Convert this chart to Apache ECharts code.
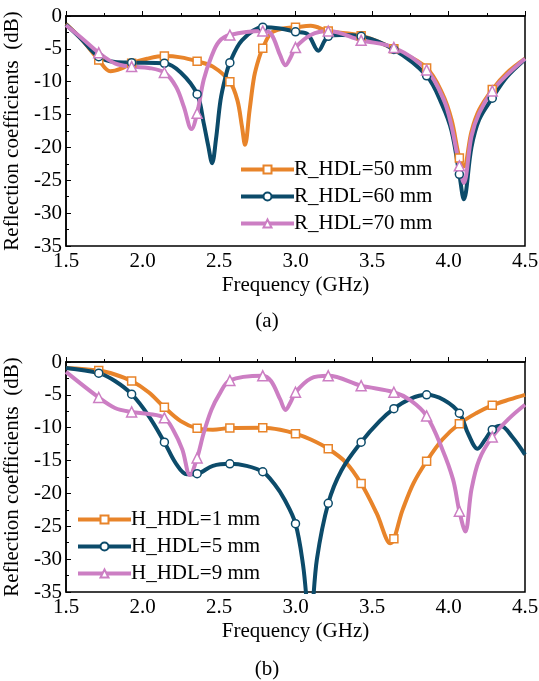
<!DOCTYPE html>
<html>
<head>
<meta charset="utf-8">
<script src="https://cdn.jsdelivr.net/npm/echarts@6/dist/echarts.min.js"></script>
<style>
  html, body { margin: 0; padding: 0; background: #fff; }
  #chart { width: 539px; height: 681px; }
</style>
</head>
<body>
<div id="chart"></div>
<script>
// frequency ticks and marker positions (GHz)
const xTicks = [1.5, 2.0, 2.5, 3.0, 3.5, 4.0, 4.5];
const markFreq = [1.714, 1.929, 2.143, 2.357, 2.571, 2.786, 3.0, 3.214, 3.429, 3.643, 3.857, 4.071, 4.286];

// (a) R_HDL sweep, curve points [GHz, dB]
const aR50 = [[1.5,-1.2],[1.6,-3.5],[1.714,-6.7],[1.79,-8.4],[1.86,-8.0],[1.929,-7.2],[2.03,-6.5],[2.143,-6.1],[2.25,-6.3],
  [2.357,-6.9],[2.46,-7.7],[2.571,-10.0],[2.62,-12.8],[2.65,-16.8],[2.67,-19.6],[2.70,-14.3],[2.73,-9.2],[2.76,-6.5],
  [2.786,-4.9],[2.84,-2.6],[2.92,-1.9],[3.0,-1.7],[3.1,-1.5],[3.214,-2.3],[3.429,-3.0],[3.643,-5.0],
  [3.857,-7.9],[3.96,-11.8],[4.02,-15.8],[4.071,-21.6],[4.10,-22.9],[4.15,-17.6],[4.2,-14.3],[4.286,-11.2],[4.38,-8.7],[4.5,-6.5]];
const aR60 = [[1.5,-1.3],[1.6,-3.5],[1.714,-6.2],[1.82,-7.0],[1.929,-7.1],[2.143,-7.2],[2.25,-8.6],[2.357,-11.9],[2.40,-16.3],
  [2.43,-19.8],[2.455,-22.4],[2.48,-18.8],[2.51,-12.8],[2.54,-9.5],[2.571,-7.1],[2.65,-3.7],[2.786,-1.7],[2.9,-1.9],
  [3.0,-2.4],[3.08,-2.8],[3.15,-5.3],[3.19,-3.8],[3.214,-3.1],[3.3,-2.9],[3.429,-3.1],[3.643,-5.1],[3.857,-9.1],
  [3.96,-13.6],[4.02,-17.5],[4.071,-24.1],[4.10,-27.9],[4.15,-20.0],[4.2,-15.8],[4.286,-12.5],[4.38,-9.3],[4.5,-6.6]];
const aR70 = [[1.5,-1.4],[1.6,-3.3],[1.714,-5.6],[1.82,-7.2],[1.929,-7.7],[2.04,-7.9],[2.143,-8.6],[2.22,-10.8],[2.27,-13.8],
  [2.32,-17.2],[2.357,-14.8],[2.40,-9.7],[2.45,-6.2],[2.50,-3.9],[2.571,-2.9],[2.786,-2.3],[2.84,-2.7],[2.90,-6.0],
  [2.935,-7.5],[2.97,-6.2],[3.0,-4.8],[3.1,-2.9],[3.214,-2.3],[3.429,-3.7],[3.643,-4.8],[3.857,-8.2],[3.97,-12.8],
  [4.02,-16.8],[4.071,-22.8],[4.10,-25.4],[4.15,-18.3],[4.2,-14.8],[4.286,-11.4],[4.38,-9.0],[4.5,-6.5]];
const aR50Marks = [-6.7, -7.2, -6.1, -6.9, -10.0, -4.9, -1.7, -2.3, -3.0, -5.0, -7.9, -21.6, -11.2];
const aR60Marks = [-6.2, -7.1, -7.2, -11.9, -7.1, -1.7, -2.4, -3.1, -3.1, -5.1, -9.1, -24.1, -12.5];
const aR70Marks = [-5.6, -7.7, -8.6, -14.8, -2.9, -2.3, -4.8, -2.3, -3.7, -4.8, -8.2, -22.8, -11.4];

// (b) H_HDL sweep
const bH1 = [[1.5,-0.9],[1.714,-1.3],[1.82,-1.9],[1.929,-2.9],[2.04,-4.6],[2.143,-6.9],[2.25,-9.0],[2.357,-10.1],[2.46,-10.3],
  [2.571,-10.05],[2.786,-10.0],[2.9,-10.3],[3.0,-10.9],[3.1,-11.8],[3.214,-13.2],[3.33,-15.3],[3.429,-18.5],[3.53,-23.0],
  [3.62,-27.6],[3.7,-22.5],[3.77,-18.5],[3.857,-15.1],[3.96,-11.8],[4.071,-9.4],[4.18,-7.8],[4.286,-6.6],[4.4,-5.7],[4.5,-5.0]];
const bH5 = [[1.5,-0.9],[1.714,-1.7],[1.82,-2.9],[1.929,-4.9],[2.04,-8.2],[2.143,-12.2],[2.22,-15.5],[2.29,-17.1],[2.357,-17.0],
  [2.46,-15.8],[2.571,-15.5],[2.68,-15.8],[2.786,-16.7],[2.86,-18.5],[2.93,-21.0],[3.0,-24.6],[3.05,-31.0],[3.095,-40.0],
  [3.14,-30.0],[3.214,-21.5],[3.3,-16.5],[3.429,-12.2],[3.55,-9.0],[3.643,-7.1],[3.75,-5.6],[3.857,-5.0],[3.97,-5.8],
  [4.071,-7.8],[4.13,-11.0],[4.19,-13.2],[4.24,-11.8],[4.286,-10.3],[4.34,-9.7],[4.42,-11.5],[4.5,-14.1]];
const bH9 = [[1.5,-1.5],[1.714,-5.4],[1.82,-7.0],[1.929,-7.6],[2.04,-7.9],[2.143,-8.5],[2.2,-10.3],[2.26,-13.3],[2.31,-17.2],
  [2.357,-14.6],[2.40,-10.8],[2.45,-7.3],[2.50,-5.0],[2.571,-2.8],[2.786,-2.1],[2.84,-2.9],[2.90,-5.7],[2.935,-7.3],
  [2.97,-6.0],[3.0,-4.6],[3.1,-2.5],[3.214,-2.1],[3.429,-3.6],[3.643,-4.6],[3.75,-5.8],[3.857,-8.2],[3.96,-13.3],
  [4.03,-17.9],[4.071,-22.7],[4.11,-25.8],[4.15,-19.4],[4.2,-14.9],[4.286,-11.4],[4.4,-8.5],[4.5,-6.5]];
const bH1Marks = [-1.3, -2.9, -6.9, -10.1, -10.05, -10.0, -10.9, -13.2, -18.5, -26.9, -15.1, -9.4, -6.6];
const bH5Marks = [-1.7, -4.9, -12.2, -17.0, -15.5, -16.7, -24.6, -21.5, -12.2, -7.1, -5.0, -7.8, -10.3];
const bH9Marks = [-5.4, -7.6, -8.5, -14.6, -2.8, -2.1, -4.6, -2.1, -3.6, -4.6, -8.2, -22.7, -11.4];

const ORANGE = "#E8842A", BLUE = "#0C4B6A", PINK = "#CC7EC3";
const FONT = "Liberation Serif";
const FS = 21;

const chart = echarts.init(document.getElementById("chart"), null, { renderer: "canvas" });

const xAxisOf = (gi) => ({
  type: "value", gridIndex: gi, min: 1.5, max: 4.5, interval: 0.5,
  name: "Frequency (GHz)", nameLocation: "middle", nameGap: 29,
  nameTextStyle: { fontFamily: FONT, fontSize: FS, color: "#000" },
  axisLine: { lineStyle: { color: "#000", width: 1.5 } },
  axisTick: { inside: true, length: 5, lineStyle: { color: "#000" } },
  minorTick: { show: true, splitNumber: 2, length: 3, lineStyle: { color: "#000" } },
  axisLabel: { fontFamily: FONT, fontSize: FS, color: "#000", margin: 5, formatter: (v) => v.toFixed(1) },
  splitLine: { show: false },
});
const yAxisOf = (gi) => ({
  type: "value", gridIndex: gi, min: -35, max: 0, interval: 5,
  name: "Reflection coefficients  (dB)", nameLocation: "middle", nameGap: 36,
  nameTextStyle: { fontFamily: FONT, fontSize: FS, color: "#000" },
  axisLine: { lineStyle: { color: "#000", width: 1.5 } },
  axisTick: { inside: true, length: 5, lineStyle: { color: "#000" } },
  minorTick: { show: true, splitNumber: 2, length: 3, lineStyle: { color: "#000" } },
  axisLabel: { fontFamily: FONT, fontSize: FS, color: "#000", margin: 4 },
  splitLine: { show: false },
});

const curve = (name, data, color, symbol, gi) => ({
  name, type: "line", data, xAxisIndex: gi, yAxisIndex: gi,
  smooth: 0.35, showSymbol: false, symbol, symbolSize: 9,
  lineStyle: { color, width: 4 },
  itemStyle: { color: "#fff", borderColor: color, borderWidth: 1.5 },
  z: 2,
});
const marks = (vals, color, symbol, gi) => ({
  type: "scatter", data: markFreq.map((f, i) => [f, vals[i]]), xAxisIndex: gi, yAxisIndex: gi,
  symbol, symbolSize: symbol === "triangle" ? 10 : 8, silent: true,
  itemStyle: { color: "#fff", borderColor: color, borderWidth: 1.5, opacity: 1 },
  z: 3,
});

const legendOf = (names, left, top) => ({
  data: names, orient: "vertical", left, top, padding: 0,
  itemWidth: 53, itemHeight: 10, itemGap: 6,
  lineStyle: { width: 4 },
  textStyle: { fontFamily: FONT, fontSize: FS, color: "#000", lineHeight: 20, padding: [0, 0, 0, -5] },
});

const gridOf = (top) => ({
  left: 66, top, width: 459, height: 230, show: true,
  borderColor: "#000", borderWidth: 1.5, outerBoundsMode: "none", containLabel: false,
});

chart.setOption({
  animation: false,
  title: [
    { text: "(a)", left: 267, top: 311, padding: 0, textAlign: "center", textStyle: { fontFamily: FONT, fontSize: FS, fontWeight: "normal", color: "#000" } },
    { text: "(b)", left: 267, top: 659, padding: 0, textAlign: "center", textStyle: { fontFamily: FONT, fontSize: FS, fontWeight: "normal", color: "#000" } },
  ],
  grid: [gridOf(16), gridOf(362)],
  xAxis: [xAxisOf(0), xAxisOf(1)],
  yAxis: [yAxisOf(0), yAxisOf(1)],
  legend: [
    legendOf(["R_HDL=50 mm", "R_HDL=60 mm", "R_HDL=70 mm"], 239, 159),
    legendOf(["H_HDL=1 mm", "H_HDL=5 mm", "H_HDL=9 mm"], 76, 509),
  ],
  series: [
    curve("R_HDL=50 mm", aR50, ORANGE, "rect", 0),
    curve("R_HDL=60 mm", aR60, BLUE, "circle", 0),
    curve("R_HDL=70 mm", aR70, PINK, "triangle", 0),
    marks(aR50Marks, ORANGE, "rect", 0),
    marks(aR60Marks, BLUE, "circle", 0),
    marks(aR70Marks, PINK, "triangle", 0),
    curve("H_HDL=1 mm", bH1, ORANGE, "rect", 1),
    curve("H_HDL=5 mm", bH5, BLUE, "circle", 1),
    curve("H_HDL=9 mm", bH9, PINK, "triangle", 1),
    marks(bH1Marks, ORANGE, "rect", 1),
    marks(bH5Marks, BLUE, "circle", 1),
    marks(bH9Marks, PINK, "triangle", 1),
  ],
});
</script>
</body>
</html>
